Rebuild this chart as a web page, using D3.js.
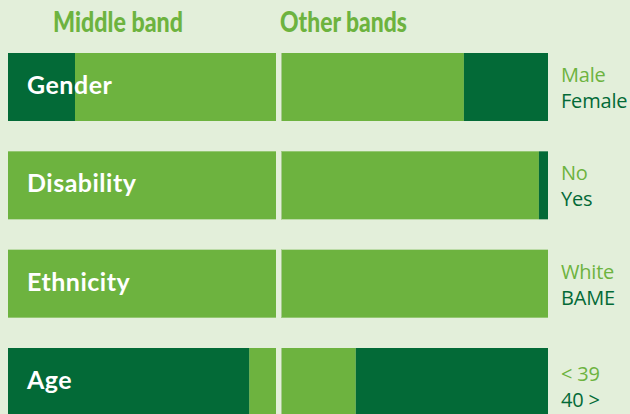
<!DOCTYPE html>
<html>
<head>
<meta charset="utf-8">
<script src="https://cdn.jsdelivr.net/npm/d3@7/dist/d3.min.js"></script>
<style>
  html, body { margin: 0; padding: 0; background: #e3efda; overflow: hidden; }
  svg { display: block; }
</style>
</head>
<body>
<script>
// Data (share of the dark group, in %)
const categories = ["Gender", "Disability", "Ethnicity", "Age"];
const lightLabels = ["Male", "No", "White", "< 39"];
const darkLabels = ["Female", "Yes", "BAME", "40 >"];
const panels = ["Middle band", "Other bands"];
const middleDark = [25, 0, 0, 90];
const otherDark = [31.5, 3.4, 0, 72];

const width = 630, height = 414;
const light = "#6db33f", dark = "#036a37";
const barH = 68;

const svg = d3.select("body").append("svg")
    .attr("width", width)
    .attr("height", height);

svg.append("rect")
    .attr("width", width).attr("height", height)
    .attr("fill", "#e3efda");

// row tops
const y = d3.scalePoint()
    .domain(categories)
    .range([53, 348]);

// left panel mirrored so light side sits next to the centre gap
const xLeft = d3.scaleLinear().domain([0, 100]).range([276, 8]);
const xRight = d3.scaleLinear().domain([0, 100]).range([281, 548]);

const rows = categories.map((c, i) => ({
    cat: c,
    light: lightLabels[i],
    dark: darkLabels[i],
    mid: middleDark[i],
    oth: otherDark[i]
}));

const drawPanel = (x, key) => {
    const g = svg.append("g");
    rows.forEach(r => {
        const lightShare = 100 - r[key];
        const segs = [
            {from: 0, to: lightShare, color: light},
            {from: lightShare, to: 100, color: dark}
        ];
        g.selectAll(null)
            .data(segs.filter(s => s.to > s.from))
            .enter().append("rect")
            .attr("x", d => Math.min(x(d.from), x(d.to)))
            .attr("width", d => Math.abs(x(d.to) - x(d.from)))
            .attr("y", y(r.cat))
            .attr("height", barH)
            .attr("fill", d => d.color);
    });
};
drawPanel(xLeft, "mid");
drawPanel(xRight, "oth");

// thin edge on the right panel
svg.append("g").selectAll("line")
    .data(categories)
    .enter().append("line")
    .attr("x1", 281.5).attr("x2", 281.5)
    .attr("y1", d => y(d))
    .attr("y2", d => y(d) + barH)
    .attr("stroke", "#a7c98e")
    .attr("stroke-width", 1);

// panel headers
svg.selectAll(".head")
    .data(panels)
    .enter().append("text")
    .attr("class", "head")
    .attr("x", (d, i) => i === 0 ? 53 : 280)
    .attr("y", 32)
    .attr("fill", light)
    .attr("font-family", "Lato, 'Open Sans', sans-serif")
    .attr("font-weight", "900")
    .attr("font-size", "29px")
    .attr("textLength", (d, i) => i === 0 ? 130 : 127)
    .attr("lengthAdjust", "spacingAndGlyphs")
    .text(d => d);

// row labels
svg.selectAll(".cat")
    .data(categories)
    .enter().append("text")
    .attr("class", "cat")
    .attr("x", 27)
    .attr("y", d => y(d) + 41)
    .attr("fill", "#fff")
    .attr("font-family", "Lato, 'Open Sans', sans-serif")
    .attr("font-weight", "bold")
    .attr("font-size", "25px")
    .attr("letter-spacing", "0.5px")
    .text(d => d);

// legends
const leg = svg.selectAll(".leg")
    .data(rows)
    .enter().append("g")
    .attr("class", "leg")
    .attr("transform", d => `translate(561,${y(d.cat)})`);

leg.append("text")
    .attr("y", (d, i) => i === 3 ? 33 : 29)
    .attr("fill", light)
    .attr("font-family", "'Open Sans', sans-serif")
    .attr("font-size", "20px")
    .attr("letter-spacing", "-0.2px")
    .text(d => d.light);

leg.append("text")
    .attr("y", (d, i) => i === 3 ? 59 : 55)
    .attr("fill", dark)
    .attr("font-family", "'Open Sans', sans-serif")
    .attr("font-size", "20px")
    .attr("letter-spacing", "-0.2px")
    .text(d => d.dark);
</script>
</body>
</html>
